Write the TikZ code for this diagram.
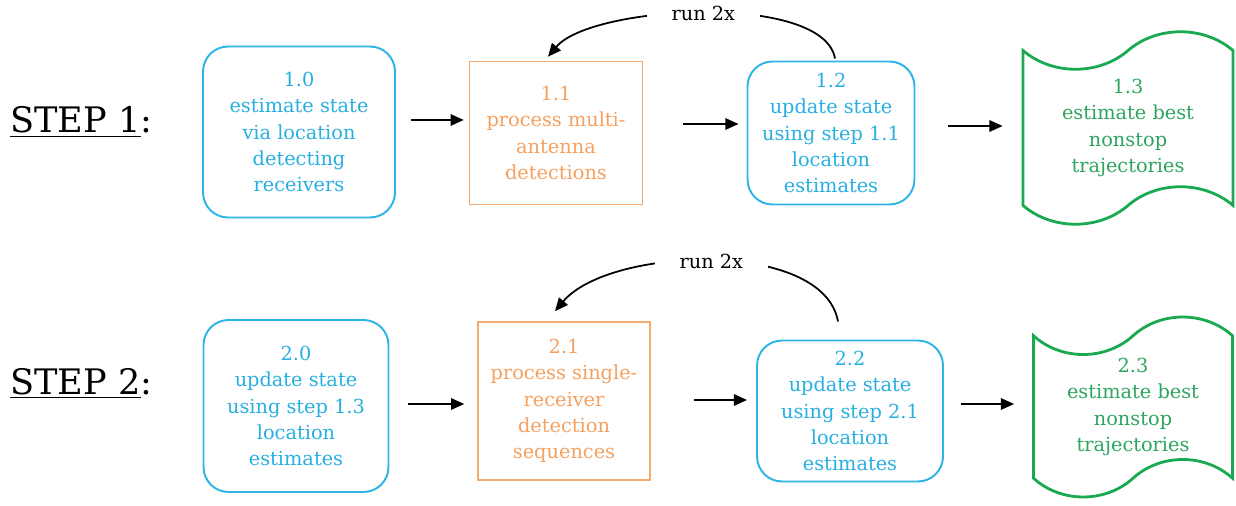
\documentclass[tikz,border=0pt]{standalone}
\usepackage{fontspec}
\setmainfont{DejaVu Serif}
\usetikzlibrary{arrows.meta,shapes.symbols}

\definecolor{skyline}{RGB}{45,180,230}
\definecolor{skytext}{RGB}{40,175,225}
\definecolor{amber}{RGB}{245,170,110}
\definecolor{ambertext}{RGB}{245,160,95}
\definecolor{leaf}{RGB}{25,170,80}
\definecolor{leaftext}{RGB}{45,165,95}

\tikzset{
  txt/.style={align=center,font=\fontsize{11}{15}\selectfont,inner sep=0pt},
  estbox/.style={txt,draw=skyline,text=skytext,line width=1.1pt,rounded corners=0.5cm},
  procbox/.style={txt,draw=amber,text=ambertext,line width=0.9pt},
  outbox/.style={txt,draw=leaf,text=leaftext,line width=1.6pt,tape,tape bend height=0.75cm},
  flow/.style={-{Triangle[length=7.5pt,width=6.5pt]},line width=1pt},
  loopnote/.style={fill=white,font=\fontsize{11}{13}\selectfont,inner xsep=14pt,inner ysep=2pt},
  steplabel/.style={font=\fontsize{20}{24}\selectfont,anchor=base west,inner sep=0pt}
}

\begin{document}
\begin{tikzpicture}[x=0.02cm,y=0.02cm]
  \useasboundingbox (0,0) rectangle (1236,-506);
  % Step labels
  \node[steplabel] (s1) at (10,-133) {\underline{STEP 1}:};
  \node[steplabel] (s2) at (10,-394) {\underline{STEP 2}:};
  % Step 1 boxes
  \node[estbox,minimum width=3.84cm,minimum height=3.42cm] (b10) at (299,-132) {1.0\\estimate state\\via location\\detecting\\receivers};
  \node[procbox,minimum width=3.46cm,minimum height=2.86cm] (b11) at (556,-133) {1.1\\process multi-\\antenna\\detections};
  \node[estbox,minimum width=3.34cm,minimum height=2.86cm] (b12) at (831,-133) {1.2\\update state\\using step 1.1\\location\\estimates};
  \node[outbox,minimum width=4.2cm,minimum height=3.85cm] (b13) at (1128,-128) {1.3\\estimate best\\nonstop\\trajectories};
  % Step 2 boxes
  \node[estbox,minimum width=3.7cm,minimum height=3.44cm] (b20) at (296,-406) {2.0\\update state\\using step 1.3\\location\\estimates};
  \node[procbox,minimum width=3.44cm,minimum height=3.16cm] (b21) at (564,-401) {2.1\\process single-\\receiver\\detection\\sequences};
  \node[estbox,minimum width=3.72cm,minimum height=2.82cm] (b22) at (850,-411) {2.2\\update state\\using step 2.1\\location\\estimates};
  \node[outbox,minimum width=3.98cm,minimum height=3.6cm] (b23) at (1133,-407) {2.3\\estimate best\\nonstop\\trajectories};
  % Forward arrows
  \draw[flow] ([shift={(15,12)}]b10.east) -- ([shift={(-5,13)}]b11.west);
  \draw[flow] ([shift={(40,9)}]b11.east) -- ([shift={(-8,9)}]b12.west);
  \draw[flow] ([shift={(33,7)}]b12.east) -- ([shift={(-19,2)}]b13.west);
  \draw[flow] ([shift={(19,2)}]b20.east) -- ([shift={(-13,-3)}]b21.west);
  \draw[flow] ([shift={(43,1)}]b21.east) -- ([shift={(-9,11)}]b22.west);
  \draw[flow] ([shift={(17,7)}]b22.east) -- ([shift={(-18,3)}]b23.west);
  % Loops
  \draw[flow] ([shift={(4,2)}]b12.north) to[out=100,in=50,looseness=0.6] node[loopnote] {run 2x} ([shift={(-8,4)}]b11.north);
  \draw[flow] ([shift={(-12,18)}]b22.north) to[out=100,in=50,looseness=0.76] node[loopnote] {run 2x} ([shift={(-9,10)}]b21.north);
\end{tikzpicture}
\end{document}
